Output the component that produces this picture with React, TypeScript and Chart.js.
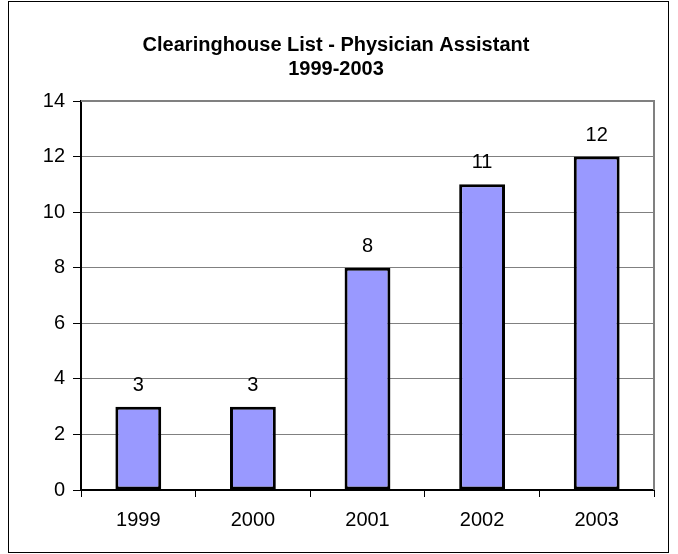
import React, { useEffect, useRef } from "react";
import { Chart, registerables } from "chart.js";

Chart.register(...registerables);

const TITLE_LINES = ["Clearinghouse List - Physician Assistant", "1999-2003"];
const CATEGORIES = ["1999", "2000", "2001", "2002", "2003"];
const VALUES = [3, 3, 8, 11, 12];
const Y_MIN = 0;
const Y_MAX = 14;
const Y_STEP = 2;

const FONT = "'Liberation Sans', Arial, Helvetica, sans-serif";

const framePlugin = {
  id: "frame",
  afterDatasetsDraw(chart: any) {
    const { ctx, chartArea } = chart;
    ctx.save();
    ctx.strokeStyle = "#808080";
    ctx.lineWidth = 2;
    ctx.beginPath();
    ctx.moveTo(chartArea.left, chartArea.top);
    ctx.lineTo(chartArea.right, chartArea.top);
    ctx.lineTo(chartArea.right, chartArea.bottom);
    ctx.stroke();
    ctx.restore();
  },
  afterDraw(chart: any) {
    const { ctx } = chart;
    ctx.save();
    ctx.strokeStyle = "#000000";
    ctx.lineWidth = 1;
    ctx.strokeRect(8.5, 1.5, 660, 551);
    ctx.restore();
  },
};

const labelPlugin = {
  id: "valueLabels",
  afterDatasetsDraw(chart: any) {
    const { ctx } = chart;
    const meta = chart.getDatasetMeta(0);
    ctx.save();
    ctx.fillStyle = "#000000";
    ctx.font = `20px ${FONT}`;
    ctx.textAlign = "center";
    ctx.textBaseline = "alphabetic";
    meta.data.forEach((bar: any, i: number) => {
      ctx.fillText(String(VALUES[i]), bar.x, bar.y - 16);
    });
    ctx.restore();
  },
};

export default function App() {
  const ref = useRef<HTMLCanvasElement>(null);

  useEffect(() => {
    if (!ref.current) return;
    const chart = new Chart(ref.current, {
      type: "bar",
      data: {
        labels: CATEGORIES,
        datasets: [
          {
            data: VALUES,
            backgroundColor: "#9999FF",
            borderColor: "#000000",
            borderWidth: 3,
            borderSkipped: false,
            barPercentage: 0.4,
            categoryPercentage: 1,
          },
        ],
      },
      options: {
        responsive: false,
        animation: false,
        devicePixelRatio: 1,
        layout: { padding: { left: 0, right: 6, top: 0, bottom: 0 } },
        plugins: {
          legend: { display: false },
          tooltip: { enabled: false },
          title: {
            display: true,
            text: TITLE_LINES,
            color: "#000000",
            font: { family: FONT, size: 20, weight: "bold", lineHeight: 1.2 },
            padding: { top: 33, bottom: 20 },
          },
        },
        scales: {
          x: {
            grid: {
              display: true,
              drawOnChartArea: false,
              drawTicks: true,
              tickLength: 7,
              tickColor: "#000000",
              offset: true,
            },
            border: { display: true, color: "#000000", width: 2 },
            ticks: {
              color: "#000000",
              font: { family: FONT, size: 20 },
              padding: 11,
              maxRotation: 0,
            },
            afterFit(scale: any) {
              scale.height = 64;
            },
          },
          y: {
            min: Y_MIN,
            max: Y_MAX,
            grid: {
              color: "#808080",
              lineWidth: 1,
              drawTicks: true,
              tickLength: 8,
              tickColor: "#000000",
            },
            border: { display: true, color: "#000000", width: 2 },
            ticks: {
              stepSize: Y_STEP,
              color: "#000000",
              font: { family: FONT, size: 20 },
              padding: 8,
            },
            afterFit(scale: any) {
              scale.width = 81;
            },
          },
          yRight: {
            position: "right",
            min: Y_MIN,
            max: Y_MAX,
            grid: { display: false, drawTicks: false },
            border: { display: false },
            ticks: { display: false },
            afterFit(scale: any) {
              scale.width = 18;
            },
          },
        },
      },
      plugins: [framePlugin, labelPlugin],
    });
    return () => chart.destroy();
  }, []);

  return (
    <div style={{ position: "absolute", left: 0, top: 0, width: 678, height: 554, background: "#ffffff" }}>
      <canvas ref={ref} width={678} height={554} style={{ display: "block" }} />
    </div>
  );
}
